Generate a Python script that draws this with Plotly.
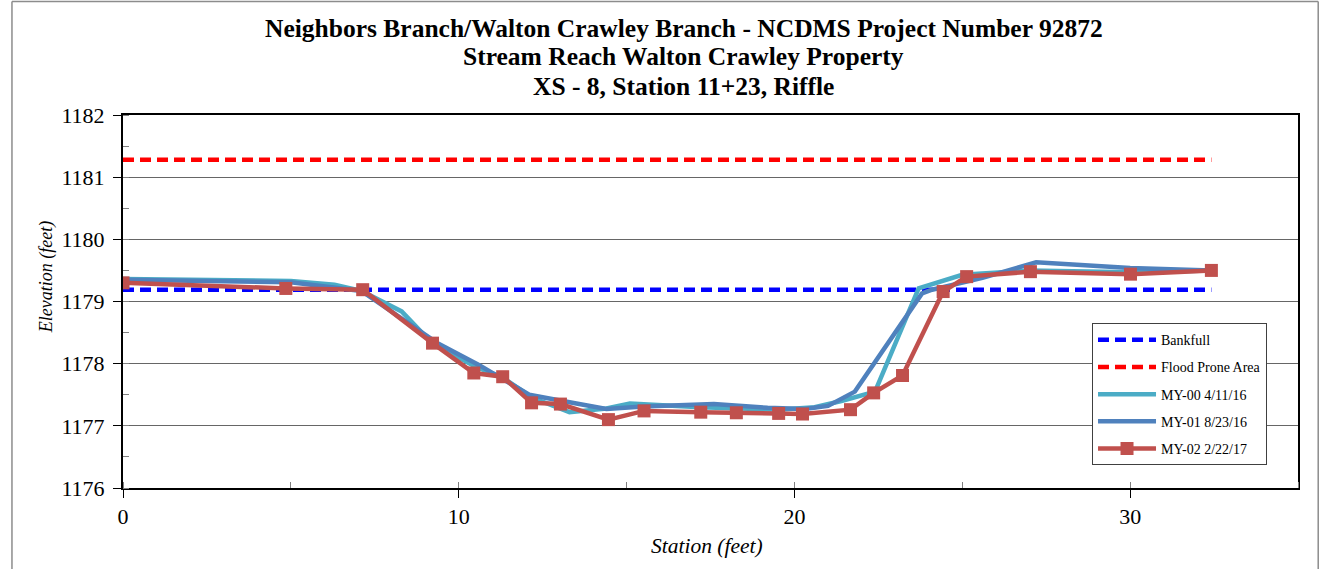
import plotly.graph_objects as go

# Survey data, XS-8 (Station 11+23, riffle)
bankfull_x = [0.0, 32.42]
bankfull_y = [1179.19, 1179.19]
flood_x = [0.0, 32.42]
flood_y = [1181.28, 1181.28]

my00_x = [0.0, 5.0, 6.3, 7.1, 8.3, 9.2, 10.5, 11.3, 12.2, 13.3, 14.4, 15.1,
          17.2, 18.3, 19.5, 20.6, 21.4, 22.4, 23.7, 25.0, 27.0, 30.0, 32.42]
my00_y = [1179.36, 1179.33, 1179.27, 1179.17, 1178.84, 1178.33, 1177.95, 1177.78,
          1177.45, 1177.22, 1177.28, 1177.36, 1177.30, 1177.28, 1177.26, 1177.30,
          1177.40, 1177.55, 1179.21, 1179.43, 1179.50, 1179.47, 1179.50]

my01_x = [0.0, 5.0, 7.1, 9.4, 10.6, 12.1, 13.1, 14.4, 15.5, 17.6, 19.2, 20.3,
          21.0, 21.8, 23.8, 24.1, 25.6, 27.2, 30.0, 32.42]
my01_y = [1179.35, 1179.31, 1179.17, 1178.32, 1177.98, 1177.50, 1177.40, 1177.27,
          1177.31, 1177.35, 1177.29, 1177.27, 1177.32, 1177.55, 1179.13, 1179.19,
          1179.38, 1179.63, 1179.54, 1179.50]

my02_x = [0.0, 4.85, 7.14, 9.22, 10.45, 11.31, 12.17, 13.03, 14.46, 15.52, 17.21,
          18.27, 19.53, 20.24, 21.67, 22.36, 23.22, 24.43, 25.13, 27.03, 30.01, 32.42]
my02_y = [1179.30, 1179.21, 1179.19, 1178.33, 1177.85, 1177.79, 1177.37, 1177.35,
          1177.10, 1177.24, 1177.22, 1177.21, 1177.20, 1177.19, 1177.26, 1177.53,
          1177.81, 1179.16, 1179.40, 1179.48, 1179.44, 1179.50]

title_lines = [
    "Neighbors Branch/Walton Crawley Branch - NCDMS Project Number 92872",
    "Stream Reach Walton Crawley Property",
    "XS - 8, Station 11+23, Riffle",
]

SERIF = "Liberation Serif, Times New Roman, serif"

fig = go.Figure()
fig.add_trace(go.Scatter(x=bankfull_x, y=bankfull_y, mode="lines", name="Bankfull",
                         legendgroup="a",
                         line=dict(color="#0000FF", width=4.5, dash="11px,6px")))
fig.add_trace(go.Scatter(x=flood_x, y=flood_y, mode="lines", name="Flood Prone Area",
                         legendgroup="b",
                         line=dict(color="#FF0000", width=4.5, dash="11px,6px")))
fig.add_trace(go.Scatter(x=my00_x, y=my00_y, mode="lines", name="MY-00 4/11/16",
                         legendgroup="c",
                         line=dict(color="#4BACC6", width=4.5)))
fig.add_trace(go.Scatter(x=my01_x, y=my01_y, mode="lines", name="MY-01 8/23/16",
                         legendgroup="d",
                         line=dict(color="#4F81BD", width=4.5)))
fig.add_trace(go.Scatter(x=my02_x, y=my02_y, mode="lines+markers", name="MY-02 2/22/17",
                         legendgroup="e",
                         line=dict(color="#C0504D", width=4.5),
                         marker=dict(symbol="square", size=13, color="#C0504D")))

# Title lines
title_y = [1.2332, 1.1555, 1.0751]
for txt, yy in zip(title_lines, title_y):
    fig.add_annotation(text="<b>" + txt + "</b>", x=0.4774, y=yy, xref="paper", yref="paper",
                       showarrow=False, xanchor="center", yanchor="middle",
                       font=dict(family=SERIF, size=25.5, color="black"))

# Axis titles
fig.add_annotation(text="<i>Station (feet)</i>", x=0.4972, y=-0.155, xref="paper", yref="paper",
                   showarrow=False, xanchor="center", yanchor="middle",
                   font=dict(family=SERIF, size=21.5, color="black"))
fig.add_annotation(text="<i>Elevation (feet)</i>", x=-0.0655, y=0.565, xref="paper", yref="paper",
                   showarrow=False, xanchor="center", yanchor="middle", textangle=-90,
                   font=dict(family=SERIF, size=18, color="black"))

# Outer chart frame
frame = dict(type="line", xref="paper", yref="paper", line=dict(color="#8c8c8c", width=1.5))
fig.add_shape(**frame, x0=-0.0945, x1=-0.0945, y0=-0.3, y1=1.3043)
fig.add_shape(**frame, x0=-0.0945, x1=1.0172, y0=1.3043, y1=1.3043)
fig.add_shape(**frame, x0=1.0172, x1=1.0172, y0=-0.3, y1=1.3043)

fig.update_layout(
    width=1324, height=569,
    margin=dict(l=123, r=26, t=115, b=81),
    paper_bgcolor="white", plot_bgcolor="white",
    font=dict(family=SERIF, color="black"),
    showlegend=True,
    legend=dict(x=0.8247, y=0.442, xanchor="left", yanchor="top",
                bgcolor="white", bordercolor="#404040", borderwidth=1,
                font=dict(family=SERIF, size=14, color="black"),
                tracegroupgap=6, itemwidth=58, traceorder="grouped"),
    xaxis=dict(range=[0, 35], dtick=10, tick0=0, showgrid=False, zeroline=False,
               showline=True, linecolor="black", linewidth=2, mirror=True,
               ticks="outside", ticklen=8, tickcolor="black", tickwidth=1,
               minor=dict(dtick=5, ticks="inside", ticklen=6, tickcolor="#808080", showgrid=False),
               tickfont=dict(family=SERIF, size=22, color="black")),
    yaxis=dict(range=[1176, 1182], dtick=1, showgrid=True, gridcolor="#666666", gridwidth=1,
               zeroline=False, showline=True, linecolor="black", linewidth=2, mirror=True,
               ticks="outside", ticklen=8, tickcolor="black", tickwidth=1,
               minor=dict(dtick=0.5, ticks="inside", ticklen=6, tickcolor="#808080", showgrid=False),
               tickfont=dict(family=SERIF, size=22, color="black"), ticklabelstandoff=4),
)

fig.write_html("out.html")
